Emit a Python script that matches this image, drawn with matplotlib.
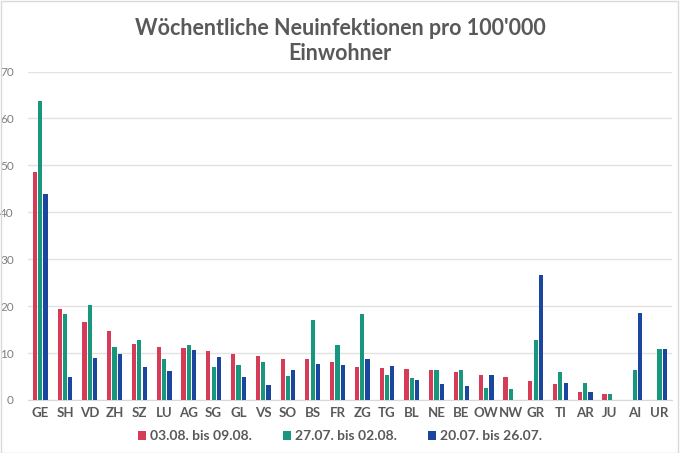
import numpy as np
import matplotlib.pyplot as plt
from matplotlib.patches import Rectangle

plt.rcParams['font.family'] = ['Lato', 'DejaVu Sans']

kantone = ['GE', 'SH', 'VD', 'ZH', 'SZ', 'LU', 'AG', 'SG', 'GL', 'VS', 'SO', 'BS', 'FR',
           'ZG', 'TG', 'BL', 'NE', 'BE', 'OW', 'NW', 'GR', 'TI', 'AR', 'JU', 'AI', 'UR']

woche_0308 = [48.5, 19.5, 16.6, 14.6, 11.9, 11.3, 11.0, 10.4, 9.8, 9.4, 8.8, 8.8, 8.2,
              7.0, 6.9, 6.6, 6.3, 5.9, 5.3, 4.8, 4.1, 3.5, 1.8, 1.35, 0, 0]
woche_2707 = [63.7, 18.3, 20.3, 11.2, 12.7, 8.8, 11.7, 7.0, 7.5, 8.2, 5.1, 17.0, 11.7,
              18.3, 5.3, 4.6, 6.3, 6.5, 2.6, 2.4, 12.7, 6.0, 3.6, 1.35, 6.3, 10.9]
woche_2007 = [43.9, 4.9, 9.0, 9.7, 7.0, 6.1, 10.6, 9.1, 5.0, 3.2, 6.3, 7.7, 7.5,
              8.7, 7.2, 4.2, 3.4, 3.0, 5.3, 0, 26.7, 3.7, 1.8, 0, 18.6, 10.9]

labels = ['03.08. bis 09.08.', '27.07. bis 02.08.', '20.07. bis 26.07.']
colors = ['#d63b57', '#17977d', '#1a46a0']

fig = plt.figure(figsize=(6.8, 4.53), dpi=100)
ax = fig.add_axes([0.041, 0.117, 0.947, 0.725])

x = np.arange(len(kantone))
w = 0.17
step = 0.215
for i, (vals, lab, c) in enumerate(zip([woche_0308, woche_2707, woche_2007], labels, colors)):
    ax.bar(x + (i - 1) * step, vals, width=w, color=c, label=lab, zorder=3)

ax.set_xlim(-0.5, len(kantone) - 0.5)
ax.set_ylim(0, 70)
ax.set_yticks(range(0, 71, 10))
ax.yaxis.grid(True, color='#e3e3e3', linewidth=1, zorder=0)
for s in ['top', 'right', 'left']:
    ax.spines[s].set_visible(False)
ax.spines['bottom'].set_color('#d9d9d9')
ax.tick_params(axis='y', length=0, pad=10, labelsize=8.5, labelcolor='#7f7f7f')
ax.tick_params(axis='x', length=0, pad=5, labelsize=9.5, labelcolor='#595959')
ax.set_xticks(x)
ax.set_xticklabels(kantone, fontweight='bold')

fig.text(0.5, 0.96, "Wöchentliche Neuinfektionen pro 100'000\nEinwohner", ha='center', va='top',
         fontsize=15.5, fontweight='bold', color='#595959', linespacing=1.25)

leg = fig.legend(loc='center', bbox_to_anchor=(0.5, 0.037), ncol=3, frameon=False,
                 handlelength=0.6, handleheight=0.6, handletextpad=0.3, columnspacing=2.2,
                 prop={'size': 10, 'weight': 'bold'})
for t in leg.get_texts():
    t.set_color('#595959')

fig.patches.append(Rectangle((0.001, 0.001), 0.996, 0.996, transform=fig.transFigure,
                             fill=False, edgecolor='#d9d9d9', linewidth=1))

fig.savefig('out.png', dpi=100)
